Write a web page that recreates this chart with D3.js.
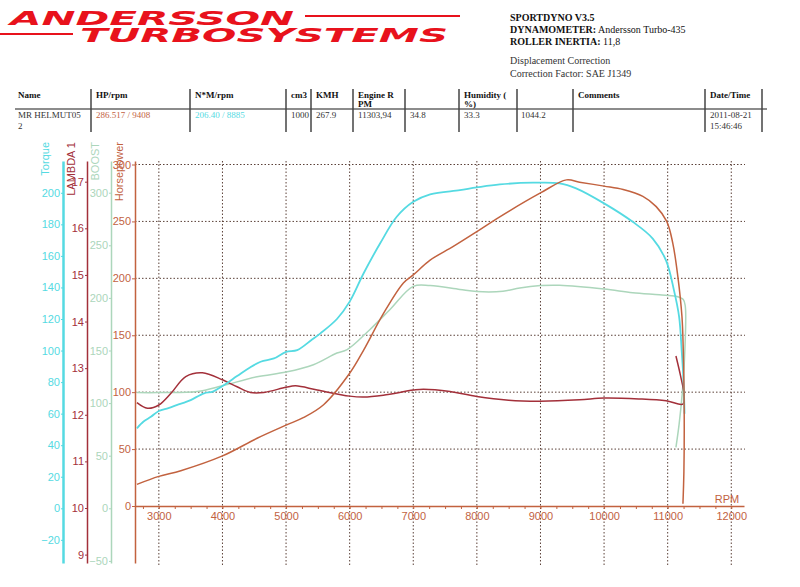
<!DOCTYPE html>
<html><head><meta charset="utf-8">
<script src="https://cdn.jsdelivr.net/npm/d3@7"></script>
<style>body{margin:0;background:#fff}svg{display:block}</style>
</head><body><svg id="c" width="800" height="587"></svg>
<script>
// ---- data ----
const hpRpm  = [2655,3000,3345,4000,4545,5000,5270,5590,6000,6220,6530,6845,7000,7265,7630,8000,8360,9000,9408,9615,10000,10300,10610,10820,10985,11080,11160,11225,11245,11260,11255,11240];
const hpVals = [19,26,31,44,59.5,71,77.6,89,116.6,137,169,196,203,216,228,241,254,275,286.5,284.5,281,278,272,263,250,231,201.5,166,137,80,30,2];
const tqRpm  = [2655,2760,2875,3000,3150,3290,3400,3500,3710,3850,4000,4230,4420,4600,4810,5000,5175,5400,5540,5800,6000,6220,6480,6740,7000,7265,7733,8000,8360,8885,9300,9560,10000,10450,10765,10975,11100,11180,11220,11250,11265];
const tqVals = [50.7,55,58,61.7,63.5,65.5,67,68.6,72.9,74,77.5,83.8,89,92.9,95,99.2,100.3,106.7,110.9,120,131,149,168,184.8,194.3,199,201.7,203.4,205.3,206.4,206,202.8,193.3,181.6,171,157,138,121.4,100.3,80,60];
const boostRpm  = [2655,3000,3605,4000,4545,5000,5430,5800,5960,6320,6635,7000,7265,7733,8000,8410,8675,9000,9300,10000,10450,10870,11130,11245,11277,11270,11230,11180,11130];
const boostVals = [110,110,111,116.5,125,129.5,136.5,147.6,150.8,170,189,211,211.7,208,206,206.3,209.5,211.7,212,208.5,205,203,201.5,198.4,192,150,110,80,58];
const lamRpm  = [2655,2820,3000,3190,3423,3685,4000,4230,4440,4650,5000,5150,5490,6000,6220,6530,7000,7160,7577,8000,8500,9000,9614,10000,10555,10975,11240,11260,11200,11130];
const lamVals = [12.26,12.14,12.21,12.46,12.82,12.90,12.75,12.6,12.48,12.48,12.59,12.62,12.53,12.40,12.38,12.42,12.53,12.55,12.50,12.39,12.31,12.29,12.32,12.36,12.34,12.30,12.23,12.40,12.85,13.26];

const rpmTicks = [3000,4000,5000,6000,7000,8000,9000,10000,11000,12000];
const hpTicks = [0,50,100,150,200,250,300];
const tqTicks = [-20,0,20,40,60,80,100,120,140,160,180,200];
const lamTicks = [9,10,11,12,13,14,15,16,17];
const boostTicks = [-50,0,50,100,150,200,250,300];

const headerLines = [["SPORTDYNO V3.5",""],["DYNAMOMETER:"," Andersson Turbo-435"],["ROLLER INERTIA:","  11,8"]];
const noteLines = ["Displacement Correction","Correction Factor: SAE J1349"];
const tableHead = [["Name"],["HP/rpm"],["N*M/rpm"],["cm3"],["KMH"],["Engine R","PM"],[""],["Humidity (","%)"],[""],["Comments"],["Date/Time"]];
const tableRow  = [["MR HELMUT05","2"],["286.517 / 9408"],["206.40 / 8885"],["1000"],["267.9"],["11303,94"],["34.8"],["33.3"],["1044.2"],[""],["2011-08-21","15:46:46"]];

// ---- styles ----
const C = {hp:"#c2623f", tq:"#55dae2", lam:"#a3303a", boost:"#acd6bb", grid:"#5b4038", red:"#e8121c"};
const svg = d3.select("#c");
svg.append("rect").attr("width",800).attr("height",587).attr("fill","#fff");

// ---- logo ----
const logo = svg.append("text").attr("fill",C.red).attr("font-family","DejaVu Sans").attr("font-weight","bold").attr("font-style","italic").attr("font-size",19.5);
logo.append("tspan").attr("x",10).attr("y",25).attr("textLength",284).attr("lengthAdjust","spacingAndGlyphs").text("ANDERSSON");
logo.append("tspan").attr("x",80).attr("y",42).attr("textLength",368).attr("lengthAdjust","spacingAndGlyphs").text(" TURBOSYSTEMS".trim());
svg.append("line").attr("x1",305).attr("x2",460).attr("y1",16).attr("y2",16).attr("stroke",C.red).attr("stroke-width",2);
svg.append("line").attr("x1",0).attr("x2",73).attr("y1",34).attr("y2",34).attr("stroke",C.red).attr("stroke-width",2);

// ---- header text ----
const ht = svg.append("g").attr("font-family","Liberation Serif").attr("font-size",10).attr("fill","#111");
headerLines.forEach((l,i)=>{
  const t = ht.append("text").attr("x",510).attr("y",21+i*12);
  t.append("tspan").attr("font-weight","bold").text(l[0]);
  t.append("tspan").text(l[1]);
});
noteLines.forEach((l,i)=>ht.append("text").attr("x",510).attr("y",64+i*13).attr("fill","#333").text(l));

// ---- table ----
const colX = [18,96,195,291,316,358,410,464,521,578,710];
const sepX = [91,190,286,311,353,405,459,517,573,705,762];
const tb = svg.append("g").attr("font-family","Liberation Serif").attr("font-size",9);
tb.append("line").attr("x1",15).attr("x2",767).attr("y1",109).attr("y2",109).attr("stroke","#666").attr("stroke-width",1.5);
sepX.forEach(x=>tb.append("line").attr("x1",x).attr("x2",x).attr("y1",89).attr("y2",132).attr("stroke","#444").attr("stroke-width",1.5));
tableHead.forEach((c,i)=>c.forEach((s,j)=>tb.append("text").attr("x",colX[i]).attr("y",98+j*9).attr("font-weight","bold").attr("fill","#111").text(s)));
const rowColor = (i)=> i===1? C.hp : i===2? C.tq : "#333";
tableRow.forEach((c,i)=>c.forEach((s,j)=>tb.append("text").attr("x",colX[i]).attr("y",118+j*11).attr("fill",rowColor(i)).text(s)));

// ---- scales ----
const x = d3.scaleLinear().domain([2625,12200]).range([135,744]);
function mk(v0,p0,v1,p1){const s=d3.scaleLinear().domain([v0,v1]).range([p0,p1]);return s.copy().domain([s.invert(563),s.invert(161)]).range([563,161]);}
const yHp = mk(0,506,300,164.5);
const yTq = mk(0,508.3,200,192.8);
const yLam = mk(10,508,17,181.7);
const yBoost = mk(0,508.3,300,192.7);

// ---- grid ----
const grid = svg.append("g").attr("stroke",C.grid).attr("stroke-width",1).attr("stroke-dasharray","1.5,2");
rpmTicks.forEach(r=>grid.append("line").attr("x1",x(r)).attr("x2",x(r)).attr("y1",161).attr("y2",566));
hpTicks.filter(v=>v>0).forEach(v=>grid.append("line").attr("x1",135).attr("x2",745).attr("y1",yHp(v)).attr("y2",yHp(v)));

// ---- axes ----
function styleAxis(g,col,w){
  g.attr("font-family","Liberation Sans").attr("font-size",11);
  g.select(".domain").attr("stroke",col).attr("stroke-width",w);
  g.selectAll(".tick line").attr("stroke",col);
  g.selectAll(".tick text").attr("fill",col);
}
const aTq = svg.append("g").attr("transform","translate(63,0)").call(d3.axisLeft(yTq).tickValues(tqTicks).tickSize(2).tickSizeOuter(0).tickPadding(1));
styleAxis(aTq,C.tq,2.5);
const aLam = svg.append("g").attr("transform","translate(87,0)").call(d3.axisLeft(yLam).tickValues(lamTicks).tickSize(2).tickSizeOuter(0).tickPadding(1));
styleAxis(aLam,C.lam,1.5);
const aBoost = svg.append("g").attr("transform","translate(111,0)").call(d3.axisLeft(yBoost).tickValues(boostTicks).tickSize(2).tickSizeOuter(0).tickPadding(1));
styleAxis(aBoost,C.boost,1.5);
const aHp = svg.append("g").attr("transform","translate(135,0)").call(d3.axisLeft(yHp).tickValues(hpTicks).tickSize(3).tickSizeOuter(0).tickPadding(1));
styleAxis(aHp,C.hp,1.5);

const xAx = svg.append("g").attr("transform","translate(0,"+yHp(0)+")")
  .call(d3.axisBottom(x).tickValues(d3.range(2750,12250,250)).tickSize(3).tickSizeOuter(0).tickPadding(3)
  .tickFormat(d=> d%1000===0 ? d : ""));
styleAxis(xAx,C.hp,1.5);
svg.append("text").attr("x",727).attr("y",503).attr("text-anchor","middle").attr("font-family","Liberation Sans").attr("font-size",11).attr("fill",C.hp).text("RPM");

// axis titles
const titles = [["Torque",49,C.tq],["LAMBDA 1",75,C.lam],["BOOST",99,C.boost],["Horsepower",123,C.hp]];
titles.forEach(t=>svg.append("text").attr("transform",`translate(${t[1]},142) rotate(-90)`).attr("text-anchor","end")
  .attr("font-family","Liberation Sans").attr("font-size",11).attr("fill",t[2]).text(t[0]));

// ---- series ----
function series(rpm,vals,ys,col,w){
  const pts = rpm.map((r,i)=>[x(r),ys(vals[i])]);
  svg.append("path").attr("d",d3.line().curve(d3.curveCatmullRom.alpha(0.5))(pts))
    .attr("fill","none").attr("stroke",col).attr("stroke-width",w).attr("stroke-linejoin","round");
}
series(boostRpm,boostVals,yBoost,C.boost,1.5);
series(lamRpm,lamVals,yLam,C.lam,1.5);
series(tqRpm,tqVals,yTq,C.tq,1.8);
series(hpRpm,hpVals,yHp,C.hp,1.5);
</script></body></html>
